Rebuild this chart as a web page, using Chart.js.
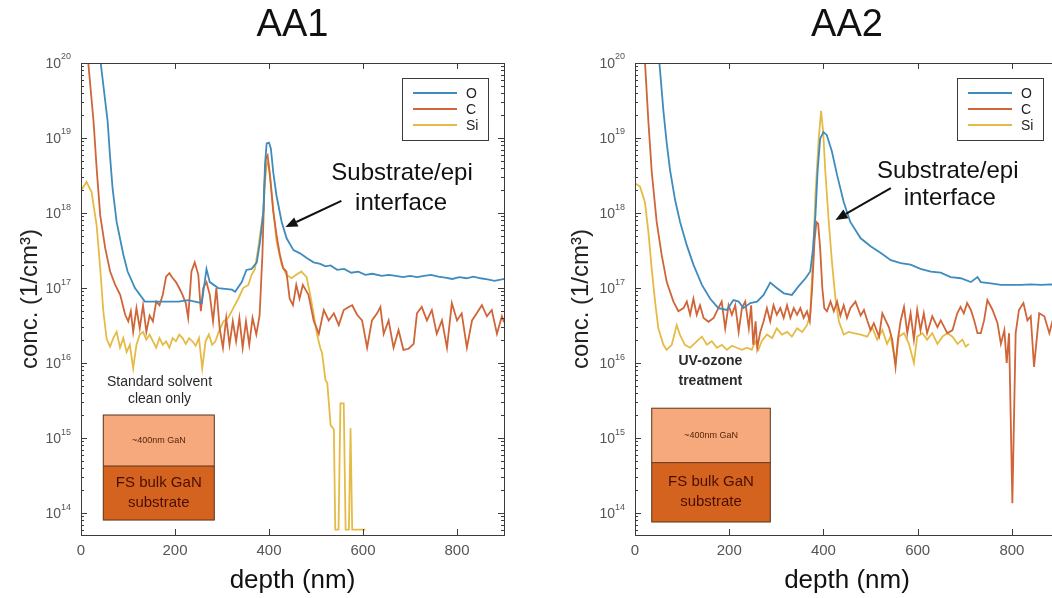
<!DOCTYPE html>
<html>
<head>
<meta charset="utf-8">
<script src="https://cdn.jsdelivr.net/npm/chart.js@4.4.1/dist/chart.umd.min.js"></script>
<style>
  html, body { margin: 0; padding: 0; background: #fff; overflow: hidden; width: 1052px; height: 598px; }
  #wrap1 { position: absolute; left: 0; top: 0; }
  #wrap2 { position: absolute; left: 540px; top: 0; }
</style>
</head>
<body>
<div id="wrap1"><canvas id="aa1" width="526" height="598"></canvas></div>
<div id="wrap2"><canvas id="aa2" width="541" height="598"></canvas></div>
<script>
// axis ticks
const depthTicks = [0, 200, 400, 600, 800];
const concTicks = [1e14, 1e15, 1e16, 1e17, 1e18, 1e19, 1e20];
const concTickExps = ['14', '15', '16', '17', '18', '19', '20'];
const seriesNames = ['O', 'C', 'Si'];

// AA1 - standard solvent clean only
const aa1O_depth = [0, 20, 35, 42.5, 56.7, 61.6, 67.3, 75.8, 90, 99.2, 114.8, 136, 172, 207, 228, 257, 267, 274, 292, 321, 328, 342, 352, 363, 374, 381, 388, 391.5, 395, 400, 404, 409, 416, 427, 437.5, 452, 466, 481, 495, 509, 520, 531, 545, 560, 575, 590, 605, 620, 640, 655, 670, 685, 700, 715, 730, 745, 760, 775, 790, 805, 820, 835, 850, 865, 880, 895, 900];
const aa1O_conc = [3e21, 1e21, 2.5e20, 9.3e19, 1.66e19, 5.9e18, 2.1e18, 7.6e17, 2.8e17, 1.66e17, 1e17, 6.6e16, 6.6e16, 6.6e16, 6.9e16, 6.3e16, 1.8e17, 1.2e17, 1e17, 9.5e16, 8.9e16, 1.2e17, 1.74e17, 1.8e17, 2.2e17, 4.2e17, 1.04e18, 4.4e18, 8.5e18, 8.7e18, 7.2e18, 3.5e18, 1.7e18, 7.6e17, 4.6e17, 3.2e17, 2.9e17, 2.5e17, 2.2e17, 2.1e17, 1.95e17, 2.0e17, 1.75e17, 1.8e17, 1.6e17, 1.65e17, 1.5e17, 1.55e17, 1.45e17, 1.5e17, 1.45e17, 1.4e17, 1.45e17, 1.4e17, 1.45e17, 1.5e17, 1.42e17, 1.38e17, 1.32e17, 1.4e17, 1.35e17, 1.42e17, 1.35e17, 1.3e17, 1.25e17, 1.3e17, 1.32e17];

const aa1C_depth = [0, 10, 15.5, 26.7, 33.8, 40.9, 51.5, 62, 72.8, 83.4, 94, 100.6, 106, 111, 118, 125, 132, 139, 146, 153, 160, 167, 174, 181, 188, 195, 202, 209, 216, 223, 228, 235, 242, 249.6, 255, 260, 267, 274, 281, 288, 295, 302, 309, 316, 323, 330, 337, 344, 351, 358, 365, 373, 380, 386, 390, 393.5, 397, 402, 409, 416, 423, 430, 437, 444, 451, 458, 465, 472, 484, 495, 506, 516.6, 527, 538, 548.5, 559, 569.5, 577, 587.4, 598, 608.8, 619, 630, 637, 644, 654.5, 665, 675.6, 686, 697, 707.8, 714.8, 725, 736, 746.5, 757, 768, 778.7, 789, 800, 810, 821, 832, 842, 853, 863.6, 874, 885, 895.5, 900];
const aa1C_conc = [5e20, 1.5e20, 1e20, 1.66e19, 3.55e18, 9.3e17, 3.4e17, 1.66e17, 1.1e17, 8.1e16, 4.4e16, 3.6e16, 4.9e16, 2.6e16, 5.4e16, 2.9e16, 5.9e16, 2.6e16, 4.3e16, 3.6e16, 6.6e16, 5.9e16, 8.1e16, 1.42e17, 1.58e17, 1.36e17, 1.2e17, 1e17, 8.1e16, 6.3e16, 4e16, 1.66e17, 2.2e17, 1.5e17, 4.9e16, 1e17, 1.2e17, 8.1e16, 3.6e16, 1e17, 2.9e16, 1.6e16, 4e16, 1.75e16, 3.6e16, 1.95e16, 4e16, 1.6e16, 3.6e16, 1.75e16, 4e16, 2.4e16, 4.3e16, 2.8e17, 2.1e18, 5.4e18, 5.9e18, 3.2e18, 1.05e18, 5.1e17, 2.8e17, 1.85e17, 1.66e17, 7.2e16, 5.9e16, 1.1e17, 7.2e16, 1.1e17, 8.1e16, 3.7e16, 2.45e16, 5.1e16, 3.7e16, 4.6e16, 3.2e16, 5.1e16, 5.6e16, 5.9e16, 4.4e16, 3.7e16, 1.6e16, 3.7e16, 4.6e16, 5.6e16, 2.45e16, 3.7e16, 1.6e16, 2.75e16, 1.5e16, 1.55e16, 1.8e16, 4.6e16, 5.6e16, 3.7e16, 5.1e16, 2.45e16, 3.7e16, 1.6e16, 6.3e16, 3.7e16, 4.6e16, 1.6e16, 3.7e16, 4.6e16, 5.9e16, 4.2e16, 5.1e16, 2.45e16, 4.2e16, 3.5e16];

const aa1Si_depth = [0, 11.8, 22.5, 33.2, 40.4, 47.5, 54.6, 61.7, 68.8, 75.8, 83, 90, 97, 104, 111, 118, 125, 132, 139, 146, 153, 160, 167, 174, 181, 188, 195, 202, 209, 216, 223, 230, 237, 244, 251, 258, 265, 272, 279, 286, 293, 303, 313, 324, 334.7, 345, 356, 363, 370, 377, 388, 391.5, 395, 398, 402, 409, 416, 427, 437, 448, 458, 469, 480, 488, 495, 502, 509, 513, 520, 524, 531, 538, 541, 548, 552, 559, 563, 570, 573.5, 577, 605];
const aa1Si_conc = [2.0e18, 2.6e18, 1.9e18, 6.9e17, 2e17, 4.9e16, 2.1e16, 1.66e16, 2.15e16, 2.6e16, 1.6e16, 2.15e16, 1.4e16, 1.75e16, 8.5e15, 1.75e16, 2.4e16, 2.6e16, 2.05e16, 2.4e16, 1.95e16, 1.6e16, 2.15e16, 1.75e16, 1.95e16, 1.6e16, 2.15e16, 1.95e16, 2.4e16, 2.15e16, 1.8e16, 2.15e16, 1.95e16, 1.7e16, 2.15e16, 8.5e15, 1.95e16, 2.4e16, 1.75e16, 1.95e16, 2.6e16, 3.6e16, 4e16, 5.4e16, 7.2e16, 1e17, 1.1e17, 1.5e17, 1.8e17, 3.4e17, 1.05e18, 2.6e18, 4.4e18, 4.8e18, 3.2e18, 1.15e18, 4.2e17, 2.05e17, 1.5e17, 1.35e17, 1.5e17, 1.66e17, 1.4e17, 8e16, 4.5e16, 2.45e16, 1.6e16, 1.35e16, 6e15, 5.4e15, 1.5e15, 1.3e15, 6e13, 6e13, 2.9e15, 2.9e15, 6e13, 6e13, 1.35e15, 6e13, 6e13];

// AA2 - UV-ozone treatment
const aa2O_depth = [0, 25, 45, 51.8, 60.3, 67.4, 74.5, 85, 95.7, 110, 124, 142, 159.6, 177, 195, 209, 220, 230, 244.7, 259, 273, 287, 301, 316, 333, 347, 362, 372, 378, 383, 387.5, 393, 400, 407, 418, 429, 443, 457, 479, 500, 521, 543, 564, 585, 606, 628, 649, 670, 691.5, 713, 727, 734, 755, 777, 798, 819, 840, 862, 883, 900];
const aa2O_conc = [3e21, 1e21, 2.2e20, 1e20, 2.3e19, 8.5e18, 3.7e18, 1.5e18, 7.6e17, 3.7e17, 2.05e17, 1.1e17, 7.2e16, 5.4e16, 5.1e16, 6.9e16, 6.6e16, 5.4e16, 6.3e16, 6.6e16, 8.1e16, 1.18e17, 1e17, 8.5e16, 8.1e16, 1.05e17, 1.35e17, 1.66e17, 3.4e17, 9.3e17, 3.55e18, 9.8e18, 1.2e19, 1.1e19, 6.6e18, 3.2e18, 1.4e18, 7.6e17, 4.6e17, 3.6e17, 2.95e17, 2.35e17, 2.15e17, 2.05e17, 1.8e17, 1.66e17, 1.6e17, 1.4e17, 1.35e17, 1.2e17, 1.4e17, 1.2e17, 1.15e17, 1.1e17, 1.1e17, 1.1e17, 1.12e17, 1.1e17, 1.12e17, 1.1e17];

const aa2C_depth = [0, 10, 21.3, 28.4, 35.5, 46, 56.7, 67.4, 81.6, 92, 103, 110, 117, 124, 131, 138, 145.6, 156, 167, 177, 184, 191.5, 198.6, 205.7, 212.8, 220, 227, 234, 241.6, 246.5, 251, 256, 259.5, 266, 273, 280, 287, 294, 301, 308.5, 315.6, 322.7, 329.8, 337, 344, 351, 358, 365, 371, 376, 381, 385, 388.7, 393, 397.6, 401.8, 407.5, 415, 422, 429, 436, 443, 450, 457, 468, 479, 486, 493, 500, 507, 518, 525, 532, 539, 546, 553, 558, 564, 571, 578, 585, 592, 599, 606, 613, 620, 631, 642, 649, 663, 674, 684, 691, 698, 705, 713, 720, 727, 734, 741, 748, 759, 769.5, 776.6, 784, 789, 794, 801, 808, 815, 824.5, 833, 840, 847, 858, 868.8, 879.5, 886.6, 895, 900];
const aa2C_conc = [6e20, 2e20, 1e20, 1.66e19, 3.55e18, 7.6e17, 2.75e17, 1.2e17, 6.6e16, 4.9e16, 5.4e16, 6.6e16, 4.4e16, 7.2e16, 4.4e16, 5.9e16, 4e16, 3.55e16, 4e16, 5.4e16, 6.6e16, 2.9e16, 5.9e16, 4.4e16, 5.9e16, 2.6e16, 5.4e16, 6.6e16, 2.9e16, 5.9e16, 1.75e16, 3.6e16, 1.6e16, 2.6e16, 3.6e16, 5.4e16, 3.6e16, 5.9e16, 4.4e16, 5.4e16, 4e16, 5.9e16, 4e16, 5.4e16, 4.4e16, 5.4e16, 4e16, 4.9e16, 3.6e16, 1e17, 4.2e17, 7.6e17, 7.2e17, 3.4e17, 1e17, 5.4e16, 4.9e16, 6.6e16, 4.9e16, 6.6e16, 4.3e16, 5.9e16, 4e16, 5.4e16, 6.6e16, 4.3e16, 5.1e16, 3.7e16, 2.75e16, 3.4e16, 2.25e16, 4.6e16, 3.7e16, 3e16, 2.05e16, 8.9e15, 2.05e16, 3.7e16, 5.6e16, 2.5e16, 4.6e16, 2.05e16, 5.1e16, 2.75e16, 4.6e16, 2.5e16, 4.2e16, 3e16, 3.7e16, 2.5e16, 2.75e16, 4.6e16, 5.6e16, 4.6e16, 6.3e16, 5.1e16, 3.7e16, 2.5e16, 2.5e16, 3.7e16, 6.9e16, 5.1e16, 3.4e16, 1.8e16, 2.75e16, 1e16, 2.5e16, 1.35e14, 2.5e16, 5.1e16, 6.3e16, 3.7e16, 4.2e16, 8.9e15, 4.6e16, 4.2e16, 2.5e16, 3.7e16, 4.6e16, 4e16];

const aa2Si_depth = [0, 10.6, 21, 28.4, 35.5, 42.6, 49.6, 60.3, 67, 78, 88.6, 95.7, 106, 117, 131, 142, 152.6, 163, 174, 184.4, 195, 205.7, 216, 227, 237.6, 248, 255, 262, 269, 280, 291, 301, 312, 323, 333, 344, 355, 365, 372, 378, 383, 390, 395, 399.5, 404, 411.3, 418, 425.5, 433, 443, 453.5, 464, 479, 493, 503.5, 514, 525, 535, 542.6, 553, 560, 571, 581.5, 592, 599, 610, 620, 631, 642, 652.5, 663, 674, 684.6, 695, 702, 709];
const aa2Si_conc = [2.5e18, 2.25e18, 1.4e18, 5.6e17, 1.8e17, 6.6e16, 2.9e16, 1.75e16, 1.5e16, 1.75e16, 3.2e16, 2.35e16, 1.75e16, 1.6e16, 1.95e16, 2.25e16, 1.75e16, 1.95e16, 1.6e16, 1.75e16, 1.5e16, 1.7e16, 1.6e16, 1.5e16, 1.6e16, 1.5e16, 1.95e16, 1.5e16, 1.95e16, 2.4e16, 2.15e16, 2.9e16, 2.4e16, 2.6e16, 2.25e16, 2.9e16, 2.6e16, 3.2e16, 4.4e16, 2.75e17, 1.75e18, 9.8e18, 2.3e19, 1.2e19, 3.55e18, 7.6e17, 2.25e17, 7.2e16, 3.55e16, 2.4e16, 2.6e16, 2.5e16, 2.4e16, 2.25e16, 3e16, 2.05e16, 2.75e16, 1.8e16, 2.25e16, 1e16, 2.25e16, 2.5e16, 1.8e16, 1e16, 2.25e16, 2.5e16, 2.05e16, 2.5e16, 1.8e16, 2.25e16, 2.5e16, 2.25e16, 1.8e16, 2.05e16, 1.66e16, 1.8e16];

const FONT = '"Liberation Sans", Arial, Helvetica, sans-serif';
Chart.defaults.font.family = FONT;
const lineColors = { O: '#3f8bbd', C: '#cf6538', Si: '#e6bb45' };

function pairs(xs, ys) {
  return xs.map((x, i) => ({ x: x, y: ys[i] }));
}

// box with inward ticks on all four sides (matlab style) + 10^n labels
const framePlugin = {
  id: 'frame',
  afterDatasetsDraw(chart) {
    const { ctx, chartArea: a, scales: { x, y } } = chart;
    ctx.save();
    ctx.strokeStyle = '#3b3b3b';
    ctx.lineWidth = 1;
    ctx.strokeRect(Math.round(a.left) + 0.5, Math.round(a.top) + 0.5, Math.round(a.right - a.left), Math.round(a.bottom - a.top));
    ctx.beginPath();
    depthTicks.forEach(v => {
      const px = Math.round(x.getPixelForValue(v)) + 0.5;
      ctx.moveTo(px, a.bottom); ctx.lineTo(px, a.bottom - 6);
      ctx.moveTo(px, a.top); ctx.lineTo(px, a.top + 6);
    });
    for (let e = 13; e <= 19; e++) {
      for (let m = 1; m <= 9; m++) {
        const v = m * Math.pow(10, e);
        if (v < y.min || v > y.max) continue;
        const py = Math.round(y.getPixelForValue(v)) + 0.5;
        const len = m === 1 ? 6 : 3;
        ctx.moveTo(a.left, py); ctx.lineTo(a.left + len, py);
        ctx.moveTo(a.right, py); ctx.lineTo(a.right - len, py);
      }
    }
    ctx.stroke();

    // y tick labels: "10" with a raised exponent
    ctx.fillStyle = '#555';
    ctx.textBaseline = 'middle';
    ctx.textAlign = 'right';
    concTicks.forEach((v, i) => {
      const py = y.getPixelForValue(v);
      const xr = a.left - 10;
      ctx.font = '9px ' + FONT;
      const ew = ctx.measureText(concTickExps[i]).width;
      ctx.fillText(concTickExps[i], xr, py - 6);
      ctx.font = '14px ' + FONT;
      ctx.fillText('10', xr - ew, py + 1);
    });
    ctx.restore();
  }
};

// legend box in the upper right corner of the plot
const boxLegendPlugin = {
  id: 'boxLegend',
  afterDatasetsDraw(chart) {
    const { ctx, chartArea: a } = chart;
    const w = 86, h = 62;
    const left = a.right - 16 - w, top = a.top + 15;
    ctx.save();
    ctx.fillStyle = '#fff';
    ctx.fillRect(left, top, w, h);
    ctx.strokeStyle = '#3b3b3b';
    ctx.lineWidth = 1;
    ctx.strokeRect(Math.round(left) + 0.5, Math.round(top) + 0.5, w, h);
    ctx.font = '14px ' + FONT;
    ctx.textBaseline = 'middle';
    ctx.textAlign = 'left';
    chart.data.datasets.forEach((ds, i) => {
      const ry = top + 15 + i * 16;
      ctx.strokeStyle = ds.borderColor;
      ctx.lineWidth = 1.8;
      ctx.beginPath();
      ctx.moveTo(left + 11, ry); ctx.lineTo(left + 55, ry);
      ctx.stroke();
      ctx.fillStyle = '#222';
      ctx.fillText(ds.label, left + 64, ry + 1);
    });
    ctx.restore();
  }
};

// arrow, interface label, treatment caption and the layer stack sketch
const notesPlugin = {
  id: 'notes',
  afterDatasetsDraw(chart, args, opts) {
    const { ctx, scales: { x, y } } = chart;
    const px = v => x.getPixelForValue(v);
    const py = v => y.getPixelForValue(v);
    ctx.save();
    // layer stack
    const b = opts.stack;
    const l = px(b.x0), r = px(b.x1), t = py(b.top), s = py(b.split), bt = py(b.bottom);
    ctx.fillStyle = '#f5a97c';
    ctx.fillRect(l, t, r - l, s - t);
    ctx.fillStyle = '#d4631f';
    ctx.fillRect(l, s, r - l, bt - s);
    ctx.strokeStyle = '#5a3418';
    ctx.lineWidth = 1;
    ctx.strokeRect(l, t, r - l, bt - t);
    ctx.beginPath(); ctx.moveTo(l, s); ctx.lineTo(r, s); ctx.stroke();
    ctx.textAlign = 'center';
    ctx.textBaseline = 'middle';
    ctx.fillStyle = '#5a2408';
    ctx.font = '9px ' + FONT;
    ctx.fillText('~400nm GaN', (l + r) / 2, (t + s) / 2);
    ctx.fillStyle = '#4a0e00';
    ctx.font = '15px ' + FONT;
    ctx.fillText('FS bulk GaN', (l + r) / 2, (s + bt) / 2 - 10);
    ctx.fillText('substrate', (l + r) / 2, (s + bt) / 2 + 10);
    // caption
    ctx.fillStyle = '#2a2a2a';
    ctx.font = opts.captionFont + ' ' + FONT;
    opts.caption.forEach(c => ctx.fillText(c.text, px(c.x), py(c.y)));
    // interface label
    ctx.fillStyle = '#111';
    ctx.font = '24px ' + FONT;
    opts.label.forEach(c => ctx.fillText(c.text, px(c.x), py(c.y)));
    // arrow
    const x1 = px(opts.arrow.from.x), y1 = py(opts.arrow.from.y);
    const x2 = px(opts.arrow.to.x), y2 = py(opts.arrow.to.y);
    const ang = Math.atan2(y2 - y1, x2 - x1);
    const hl = 12, hw = 5;
    ctx.strokeStyle = '#111';
    ctx.lineWidth = 2;
    ctx.beginPath();
    ctx.moveTo(x1, y1);
    ctx.lineTo(x2 - hl * Math.cos(ang), y2 - hl * Math.sin(ang));
    ctx.stroke();
    ctx.fillStyle = '#111';
    ctx.beginPath();
    ctx.moveTo(x2, y2);
    ctx.lineTo(x2 - hl * Math.cos(ang) + hw * Math.sin(ang), y2 - hl * Math.sin(ang) - hw * Math.cos(ang));
    ctx.lineTo(x2 - hl * Math.cos(ang) - hw * Math.sin(ang), y2 - hl * Math.sin(ang) + hw * Math.cos(ang));
    ctx.closePath();
    ctx.fill();
    ctx.restore();
  }
};

function makePanel(id, title, series, axisW, yTitlePad, notes) {
  const datasets = series.map((s, i) => ({
    label: seriesNames[i],
    data: pairs(s[0], s[1]),
    borderColor: lineColors[seriesNames[i]],
    borderWidth: 1.8,
    pointRadius: 0,
    fill: false,
    tension: 0
  }));
  return new Chart(document.getElementById(id), {
    type: 'line',
    data: { datasets: datasets },
    options: {
      responsive: false,
      animation: false,
      events: [],
      layout: { padding: { left: 0, right: 22, top: 0, bottom: 0 } },
      scales: {
        x: {
          type: 'linear',
          min: 0,
          max: 900,
          afterBuildTicks: sc => { sc.ticks = depthTicks.map(v => ({ value: v })); },
          afterFit: sc => { sc.height = 63; },
          grid: { display: false, drawTicks: false },
          border: { display: false },
          ticks: { color: '#555', font: { size: 15 }, padding: 7, maxRotation: 0 },
          title: { display: true, text: 'depth (nm)', color: '#111', font: { size: 26 }, padding: { top: 0, bottom: 2 } }
        },
        y: {
          type: 'logarithmic',
          min: 5.1e13,
          max: 1e20,
          bounds: 'data',
          afterBuildTicks: sc => { sc.ticks = concTicks.map(v => ({ value: v })); },
          afterFit: sc => { sc.width = axisW; },
          grid: { display: false, drawTicks: false },
          border: { display: false },
          ticks: { display: false },
          title: { display: true, text: 'conc. (1/cm³)', color: '#222', font: { size: 24 }, padding: { top: yTitlePad, bottom: 0 } }
        }
      },
      plugins: {
        legend: { display: false },
        tooltip: { enabled: false },
        title: {
          display: true,
          text: title,
          fullSize: false,
          color: '#111',
          font: { size: 38, weight: 'normal' },
          padding: { top: 3, bottom: 14.4 }
        },
        notes: notes
      }
    },
    plugins: [framePlugin, boxLegendPlugin, notesPlugin]
  });
}

makePanel('aa1', 'AA1',
  [[aa1O_depth, aa1O_conc], [aa1C_depth, aa1C_conc], [aa1Si_depth, aa1Si_conc]],
  81, 16,
  {
    arrow: { from: { x: 554, y: 1.45e18 }, to: { x: 435, y: 6.5e17 } },
    label: [{ text: 'Substrate/epi', x: 683, y: 3.4e18 }, { text: 'interface', x: 681, y: 1.35e18 }],
    caption: [{ text: 'Standard solvent', x: 167, y: 5.6e15 }, { text: 'clean only', x: 167, y: 3.3e15 }],
    captionFont: '14px',
    stack: { x0: 47.4, x1: 283.6, top: 2.03e15, split: 4.24e14, bottom: 8.07e13 }
  });

makePanel('aa2', 'AA2',
  [[aa2O_depth, aa2O_conc], [aa2C_depth, aa2C_conc], [aa2Si_depth, aa2Si_conc]],
  95, 27,
  {
    arrow: { from: { x: 543, y: 2.14e18 }, to: { x: 425.5, y: 8.1e17 } },
    label: [{ text: 'Substrate/epi', x: 664, y: 3.6e18 }, { text: 'interface', x: 668, y: 1.55e18 }],
    caption: [{ text: 'UV-ozone', x: 160, y: 1.07e16 }, { text: 'treatment', x: 160, y: 5.75e15 }],
    captionFont: 'bold 14px',
    stack: { x0: 35.5, x1: 287.2, top: 2.5e15, split: 4.7e14, bottom: 7.6e13 }
  });
</script>
</body>
</html>
